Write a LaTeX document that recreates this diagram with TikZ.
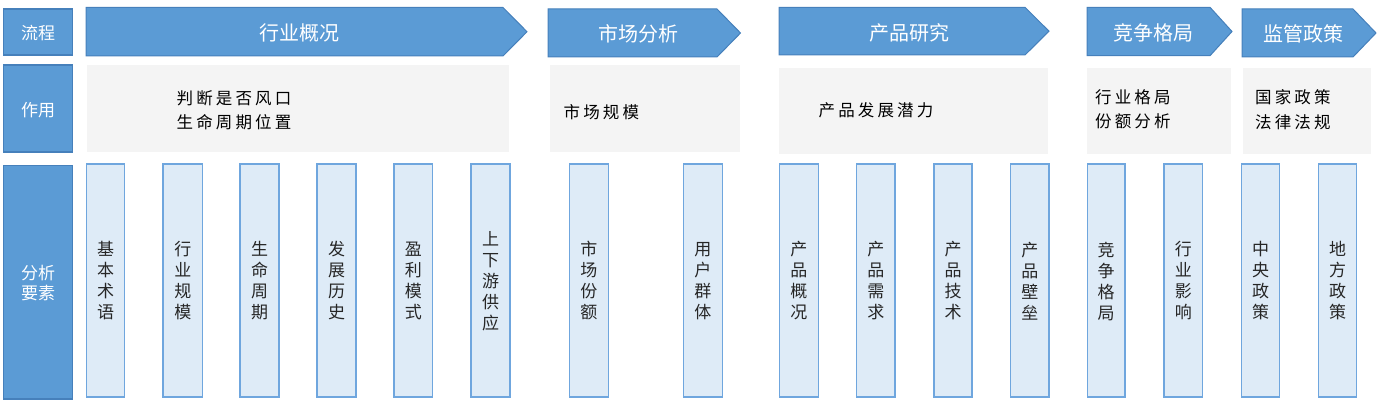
\documentclass[tikz,border=0pt]{standalone}
\usepackage{fontspec}
\newfontfamily\cjk{Noto Sans CJK SC}
\newfontfamily\cjkw[LetterSpace=19]{Noto Sans CJK SC}
\definecolor{blueF}{HTML}{5B9BD5}
\definecolor{blueD}{HTML}{4680BB}
\definecolor{greyF}{HTML}{F4F4F4}
\definecolor{paleF}{HTML}{DEEBF7}
\definecolor{paleD}{HTML}{6FA6DE}
\tikzset{
  lab/.style={draw=blueD, fill=blueF, line width=1.5pt},
  labtext/.style={text=white, font=\cjk\fontsize{17}{20}\selectfont, align=center, inner sep=0pt},
  arr/.style={draw=blueD, fill=blueF, line width=1pt, line join=miter},
  arrtext/.style={text=white, font=\cjk\fontsize{20}{24}\selectfont, inner sep=0pt},
  greybox/.style={fill=greyF},
  greytext/.style={font=\cjkw\fontsize{16.5}{24.5}\selectfont, align=left, anchor=west, text=black, inner sep=0pt},
  elem/.style={draw=paleD, fill=paleF, line width=1.5pt},
  elemtext/.style={font=\cjk\fontsize{17}{21}\selectfont, align=center, text=black!85, inner sep=0pt}
}
\begin{document}
\begin{tikzpicture}[x=1pt,y=-1pt]
\useasboundingbox (0,0) rectangle (1379,403);
% left labels
\draw[lab] (3.5,9) rectangle (72.5,55);
\node[labtext] (liucheng) at (38,33) {流程};
\draw[lab] (3.5,65) rectangle (72.5,152);
\node[labtext] (zuoyong) at (38,110) {作用};
\draw[lab] (3.5,165.5) rectangle (72.5,399);
\node[labtext] (yaosu) at (38,283) {分析\\要素};
% header arrows
\draw[arr] (86,7.5) -- (503,7.5) -- (527,31.75) -- (503,56) -- (86,56) -- cycle;
\node[arrtext] (h1) at (299.5,33) {行业概况};
\draw[arr] (548,9) -- (717,9) -- (740.5,33) -- (717,57) -- (548,57) -- cycle;
\node[arrtext] (h2) at (638.5,34) {市场分析};
\draw[arr] (779,7.3) -- (1025,7.3) -- (1049,31.2) -- (1025,55) -- (779,55) -- cycle;
\node[arrtext] (h3) at (909.5,32.5) {产品研究};
\draw[arr] (1087,7.3) -- (1210,7.3) -- (1232,31.5) -- (1210,55.7) -- (1087,55.7) -- cycle;
\node[arrtext] (h4) at (1153.3,32.5) {竞争格局};
\draw[arr] (1242,9) -- (1353,9) -- (1376,33) -- (1353,57) -- (1242,57) -- cycle;
\node[arrtext] (h5) at (1303.3,34) {监管政策};
% grey boxes
\fill[greybox] (87.3,65) rectangle (509,152);
\node[greytext] (g1) at (176.5,110.5) {判断是否风口\\生命周期位置};
\fill[greybox] (550,65) rectangle (740,152);
\node[greytext] (g2) at (563.5,112) {市场规模};
\fill[greybox] (779.3,68) rectangle (1048,154);
\node[greytext] (g3) at (818.5,110) {产品发展潜力};
\fill[greybox] (1087,68) rectangle (1231,154);
\node[greytext] (g4) at (1095,109.5) {行业格局\\份额分析};
\fill[greybox] (1242.5,68) rectangle (1370.7,154);
\node[greytext] (g5) at (1255,109.5) {国家政策\\法律法规};
% element boxes
\foreach \a/\b/\t [count=\i] in {
  86.7/124.5/{基\\本\\术\\语},
  163.2/202.3/{行\\业\\规\\模},
  240/279/{生\\命\\周\\期},
  317/356/{发\\展\\历\\史},
  394/432.7/{盈\\利\\模\\式},
  471/510/{上\\下\\游\\供\\应},
  569.3/608.5/{市\\场\\份\\额},
  683.5/722.3/{用\\户\\群\\体},
  779.5/818.3/{产\\品\\概\\况},
  856.6/895.2/{产\\品\\需\\求},
  934/972/{产\\品\\技\\术},
  1010.5/1049/{产\\品\\壁\\垒},
  1087.3/1125/{竞\\争\\格\\局},
  1164/1202.7/{行\\业\\影\\响},
  1241.7/1279.3/{中\\央\\政\\策},
  1318.3/1356.7/{地\\方\\政\\策}} {
  \draw[elem] (\a,164) rectangle (\b,397);
  \node[elemtext] (e\i) at ({(\a+\b)/2},281) {\t};
}
\end{tikzpicture}
\end{document}
